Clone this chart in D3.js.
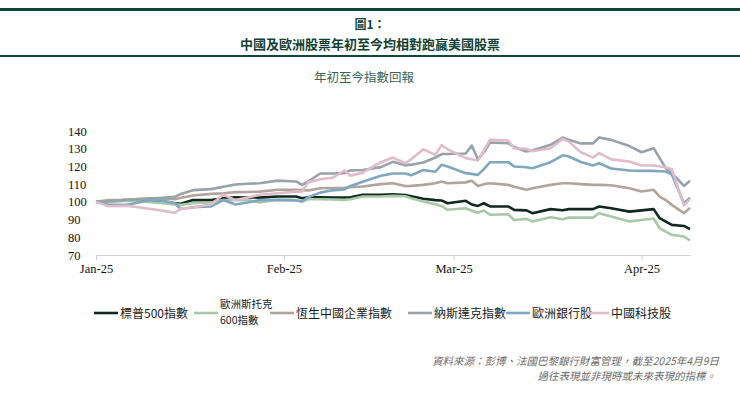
<!DOCTYPE html>
<html>
<head>
<meta charset="utf-8">
<script src="https://cdn.jsdelivr.net/npm/d3@7"></script>
<style>
  body { margin: 0; background: #fff; }
  svg { display: block; }
</style>
</head>
<body>
<script>
// dates (roughly every 2-3 days)
var dates = ["2025-01-01","2025-01-03","2025-01-06","2025-01-08","2025-01-10","2025-01-12","2025-01-14","2025-01-15","2025-01-17","2025-01-20",
  "2025-01-22","2025-01-24","2025-01-26","2025-01-28","2025-01-31","2025-02-03","2025-02-04","2025-02-05","2025-02-07","2025-02-09",
  "2025-02-11","2025-02-12","2025-02-14","2025-02-17","2025-02-19","2025-02-21","2025-02-22","2025-02-24","2025-02-26","2025-02-27",
  "2025-02-28","2025-03-03","2025-03-04","2025-03-05","2025-03-06","2025-03-07","2025-03-10","2025-03-11","2025-03-13","2025-03-14",
  "2025-03-17","2025-03-19","2025-03-20","2025-03-22","2025-03-24","2025-03-25","2025-03-27","2025-03-30","2025-04-01","2025-04-03",
  "2025-04-04","2025-04-05","2025-04-06","2025-04-08","2025-04-09"];

var spx = [100,100.5,101,100.6,100.3,100,99.2,98.9,101,101,
  102,102.6,102.5,102.4,103,103,102,102.6,102.6,102.5,
  102.4,102.6,104,104,104.3,103.8,103.2,101.8,101,100.8,
  99.2,100.6,98.5,97.7,99.2,97.4,97.4,95.5,95.2,93.6,
  95.9,95.3,95.9,95.9,95.9,97.4,96.4,94.5,95.2,95.9,
  90.8,88.9,87,86.4,84.6];

var stoxx600 = [100,99.8,100.7,100.3,99.8,99.3,98.6,98.3,99.2,99.6,
  101,101,101,99.6,101.3,101.1,100.2,101.5,101.5,101.3,
  101.1,101.5,103,103,103.4,103.2,102,100.2,98.6,97.7,
  95.5,96.4,95,93.8,95.1,92.7,93,89.8,90.4,88.9,
  91.3,90.2,91.1,91.1,91.1,93.6,91.7,88.9,89.8,90.6,
  85.1,83.2,81.4,80.4,78.2];

var hscei = [100,101,101,101.6,102,101.8,101.5,102.3,103.6,104.5,
  104.9,105.5,105.6,105.8,106.8,106.8,106.6,106.4,107.7,107.8,
  108,108.3,108.7,110,110.5,108.9,109,109.6,110.5,111.5,
  110.5,111,111.9,109,110,110.5,109.6,108.5,106.8,107.7,
  109.6,110.5,110.5,110,109.6,109.6,109.4,107.7,105.8,106.8,
  103,101,98.3,93.6,96.6];

var nasdaq = [100,100.3,101.1,101.6,101.9,102.3,102.8,104.5,106.6,107.2,
  108.5,109.8,110.2,110.5,112,111.5,109.6,111.5,116,116,
  116.2,117.8,118,119.6,122.6,120.6,121,122.2,125,127,
  127,127.3,131.8,124,128,133.5,133.1,131,128.4,129,
  132.2,136.3,135,133,133,136.3,135,131.5,128,130.3,
  124.7,119,116.2,109,111.9];

var euBanks = [100,98.3,98.3,99.6,101,100.7,99.2,96,97,97.4,
  101,98.5,99.6,101,101,100.8,100.2,102.6,105.2,106.5,
  107,109,111.3,114.7,116,116,115,118,117,120.9,
  120,116.2,115.8,115.2,118.5,122.4,122.4,120,119.5,119,
  122.4,126.3,125.6,122.5,120.5,121.8,118.8,117.7,117.5,117.5,
  117.3,117.1,115.5,99.2,102.4];

var chinaTech = [100,97.5,97.8,97,96,95,93.8,96,96.8,98.7,
  104,101,102.4,104,104.9,105.8,105.8,111,112.8,113.6,
  117.7,114.7,116.5,122.4,125,121.8,124,129.7,126.5,132,
  129.7,124.7,124,123.3,129,135,134.6,130.3,130,128.6,
  130.3,135.5,134,128,125,127.5,124,122.8,120.5,120.5,
  120,119.5,118.4,98,101.5];

var seriesNames = ["標普500指數","歐洲斯托克\n600指數","恆生中國企業指數","納斯達克指數","歐洲銀行股","中國科技股"];
var yTicks = [70,80,90,100,110,120,130,140];
var xTicks = ["2025-01-01","2025-02-01","2025-03-01","2025-04-01"];

var colors = ["#10281f","#a8c9a6","#b2a49b","#97a3a9","#7fa7c0","#e0bccb"];
var allSeries = [spx, stoxx600, hscei, nasdaq, euBanks, chinaTech];

var parse = d3.timeParse("%Y-%m-%d");
var W = 740, H = 398;

var svg = d3.select("body").append("svg")
  .attr("width", W)
  .attr("height", H);

// header rules + titles
svg.append("rect").attr("x", 0).attr("y", 8).attr("width", W).attr("height", 3).attr("fill", "#0f4637");
svg.append("rect").attr("x", 0).attr("y", 55).attr("width", W).attr("height", 2).attr("fill", "#0f4637");

svg.append("text")
  .text("圖1：")
  .attr("x", 370).attr("y", 29)
  .attr("text-anchor", "middle")
  .style("font-family", "'Noto Sans CJK TC'")
  .style("font-size", "12px")
  .style("font-weight", "bold")
  .attr("fill", "#123f33");
svg.append("text")
  .text("中國及歐洲股票年初至今均相對跑贏美國股票")
  .attr("x", 370).attr("y", 48.5)
  .attr("text-anchor", "middle")
  .style("font-family", "'Noto Sans CJK TC'")
  .style("font-size", "13px")
  .style("font-weight", "bold")
  .attr("fill", "#123f33");
svg.append("text")
  .text("年初至今指數回報")
  .attr("x", 364).attr("y", 82)
  .attr("text-anchor", "middle")
  .style("font-family", "'Noto Sans CJK TC'")
  .style("font-size", "12.5px")
  .attr("fill", "#3a6555");

// scales
var xscale = d3.scaleTime()
  .domain([parse("2025-01-01"), parse("2025-04-09")])
  .range([96, 690]);
var yscale = d3.scaleLinear()
  .domain([70, 140])
  .range([255, 131]);

// x axis
var xAxis = svg.append("g")
  .attr("transform", "translate(0,255)")
  .call(d3.axisBottom(xscale)
    .tickValues(xTicks.map(parse))
    .tickFormat(d3.timeFormat("%b-%y"))
    .tickSize(5)
    .tickSizeOuter(0));
xAxis.select(".domain").attr("stroke", "#cfcfcf").attr("stroke-width", 1.2);
xAxis.selectAll(".tick line").attr("stroke", "#cfcfcf");
xAxis.selectAll(".tick text")
  .attr("y", 9)
  .style("font-family", "'Liberation Serif'")
  .style("font-size", "12.5px")
  .attr("fill", "#111");

// y axis, labels only, left aligned like the source
var yAxis = svg.append("g")
  .attr("transform", "translate(96,0)")
  .call(d3.axisLeft(yscale).tickValues(yTicks).tickSize(0));
yAxis.select(".domain").remove();
yAxis.selectAll(".tick text")
  .attr("x", -28)
  .attr("text-anchor", "start")
  .style("font-family", "'Liberation Serif'")
  .style("font-size", "12.5px")
  .attr("fill", "#111");

// lines
var line = d3.line()
  .x(function (d, i) { return xscale(parse(dates[i])); })
  .y(function (d) { return yscale(d); });

allSeries.forEach(function (s, i) {
  svg.append("path")
    .datum(s)
    .attr("d", line)
    .attr("fill", "none")
    .attr("stroke", colors[i])
    .attr("stroke-width", 2.6)
    .attr("stroke-linejoin", "round");
});

// legend
var legendX = [94, 194, 270, 408, 506, 585];
var legend = svg.append("g").attr("transform", "translate(0,313)");
seriesNames.forEach(function (name, i) {
  var g = legend.append("g").attr("transform", "translate(" + legendX[i] + ",0)");
  g.append("line")
    .attr("x1", 0).attr("x2", 24)
    .attr("y1", 0).attr("y2", 0)
    .attr("stroke", colors[i])
    .attr("stroke-width", 2.6);
  var parts = name.split("\n");
  var t = g.append("text")
    .attr("x", 26)
    .attr("y", parts.length > 1 ? -5 : 4.5)
    .style("font-family", "'Noto Sans CJK TC'")
    .style("font-size", parts.length > 1 ? "10.5px" : "12px")
    .attr("fill", "#1a1a1a");
  parts.forEach(function (p, j) {
    t.append("tspan").attr("x", 26).attr("dy", j === 0 ? 0 : 15.5).text(p);
  });
});

// source note
var note = svg.append("g")
  .style("font-family", "'Noto Sans CJK TC'")
  .style("font-size", "10.5px")
  .style("font-style", "italic")
  .attr("fill", "#6b6b6b");
note.append("text")
  .text("資料來源：彭博、法國巴黎銀行財富管理，截至2025年4月9日")
  .attr("x", 719).attr("y", 365)
  .attr("text-anchor", "end");
note.append("text")
  .text("過往表現並非現時或未來表現的指標。")
  .attr("x", 716).attr("y", 380)
  .attr("text-anchor", "end");
</script>
</body>
</html>
